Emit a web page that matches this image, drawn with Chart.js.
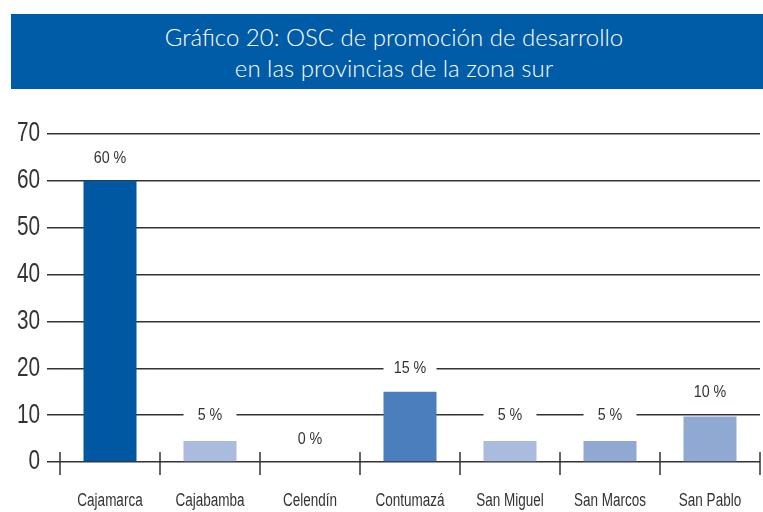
<!DOCTYPE html>
<html lang="es">
<head>
  <meta charset="UTF-8">
  <title>Gráfico 20</title>
  <script src="https://cdn.jsdelivr.net/npm/chart.js"></script>
  <style>
    html, body {
      margin: 0;
      padding: 0;
      width: 763px;
      height: 512px;
      overflow: hidden;
      background: #fff;
    }
    #titulo {
      position: absolute;
      left: 11px;
      top: 14px;
      width: 766px;
      height: 75px;
      background: #005ca7;
      color: #fff;
      font-family: Lato, sans-serif;
      font-weight: 300;
      font-size: 24px;
      line-height: 31px;
      text-align: center;
      padding-top: 7px;
      box-sizing: border-box;
      z-index: 2;
    }
    #grafico {
      position: absolute;
      left: 0;
      top: 0;
    }
  </style>
</head>
<body>
  <div id="titulo">Gráfico 20: OSC de promoción de desarrollo<br>en las provincias de la zona sur</div>
  <canvas id="grafico" width="763" height="512"></canvas>

  <script>
    const provincias = ["Cajamarca", "Cajabamba", "Celendín", "Contumazá", "San Miguel", "San Marcos", "San Pablo"];
    const valores = [60, 4.5, 0, 15, 4.5, 4.5, 9.7];
    const etiquetas = ["60 %", "5 %", "0 %", "15 %", "5 %", "5 %", "10 %"];
    const colores = ["#0058a3", "#a9bbde", "#a9bbde", "#4a7ebc", "#a9bbde", "#8fa9d3", "#8fa9d3"];
    const ticksY = [0, 10, 20, 30, 40, 50, 60, 70];

    const fuente = "'Liberation Sans', Arial, sans-serif";
    const gris = "#333333";

    // texto estrecho (la fuente original es condensada)
    function texto(ctx, t, px, py, size, k, align) {
      ctx.save();
      ctx.font = size + "px " + fuente;
      ctx.textAlign = align;
      ctx.textBaseline = "middle";
      ctx.fillStyle = gris;
      ctx.translate(px, py);
      ctx.scale(k, 1);
      ctx.fillText(t, 0, 0);
      ctx.restore();
    }

    // marcas del eje x, etiquetas de los ejes y de valores
    const extras = {
      id: "extras",
      afterDatasetsDraw(chart) {
        const ctx = chart.ctx;
        const x = chart.scales.x;
        const y = chart.scales.y;
        const meta = chart.getDatasetMeta(0);
        ctx.save();

        ctx.strokeStyle = gris;
        ctx.lineWidth = 1.5;
        const base = y.getPixelForValue(0);
        for (let i = 0; i <= provincias.length; i++) {
          let px;
          if (i === 0) px = x.left;
          else if (i === provincias.length) px = x.right;
          else px = (x.getPixelForValue(i - 1) + x.getPixelForValue(i)) / 2;
          ctx.beginPath();
          ctx.moveTo(px, base - 10);
          ctx.lineTo(px, base + 13);
          ctx.stroke();
        }
        ctx.restore();

        y.ticks.forEach(t => {
          texto(ctx, String(t.value), y.right - 20, y.getPixelForValue(t.value), 27, 0.77, "right");
        });

        provincias.forEach((p, i) => {
          texto(ctx, p, x.getPixelForValue(i), base + 39, 18, 0.75, "center");
        });

        meta.data.forEach((bar, i) => {
          const num = parseFloat(etiquetas[i]);
          const ly = y.getPixelForValue(num) - 23;
          const w = bar.width;
          ctx.fillStyle = "#fff";
          ctx.fillRect(bar.x - w / 2, ly - 11, w, 22);
          texto(ctx, etiquetas[i], bar.x, ly, 17, 0.84, "center");
        });
      }
    };

    const ctx = document.getElementById("grafico").getContext("2d");
    const chart = new Chart(ctx, {
      type: "bar",
      data: {
        labels: provincias,
        datasets: [{
          data: valores,
          backgroundColor: colores,
          borderWidth: 0,
          barPercentage: 0.53,
          categoryPercentage: 1
        }]
      },
      options: {
        responsive: false,
        animation: false,
        layout: { padding: { top: 134, right: 3, bottom: 0, left: 0 } },
        plugins: {
          legend: { display: false },
          tooltip: { enabled: false }
        },
        scales: {
          x: {
            grid: { display: false },
            border: { display: false },
            ticks: { display: false },
            afterFit(scale) {
              scale.height = 50;
            }
          },
          y: {
            min: 0,
            max: 70,
            afterBuildTicks(scale) {
              scale.ticks = ticksY.map(v => ({ value: v }));
            },
            afterFit(scale) {
              scale.width = 60;
            },
            grid: {
              color: gris,
              lineWidth: 1.5,
              drawTicks: true,
              tickLength: 13
            },
            border: { display: false },
            ticks: { display: false }
          }
        }
      },
      plugins: [extras]
    });
  </script>
</body>
</html>
